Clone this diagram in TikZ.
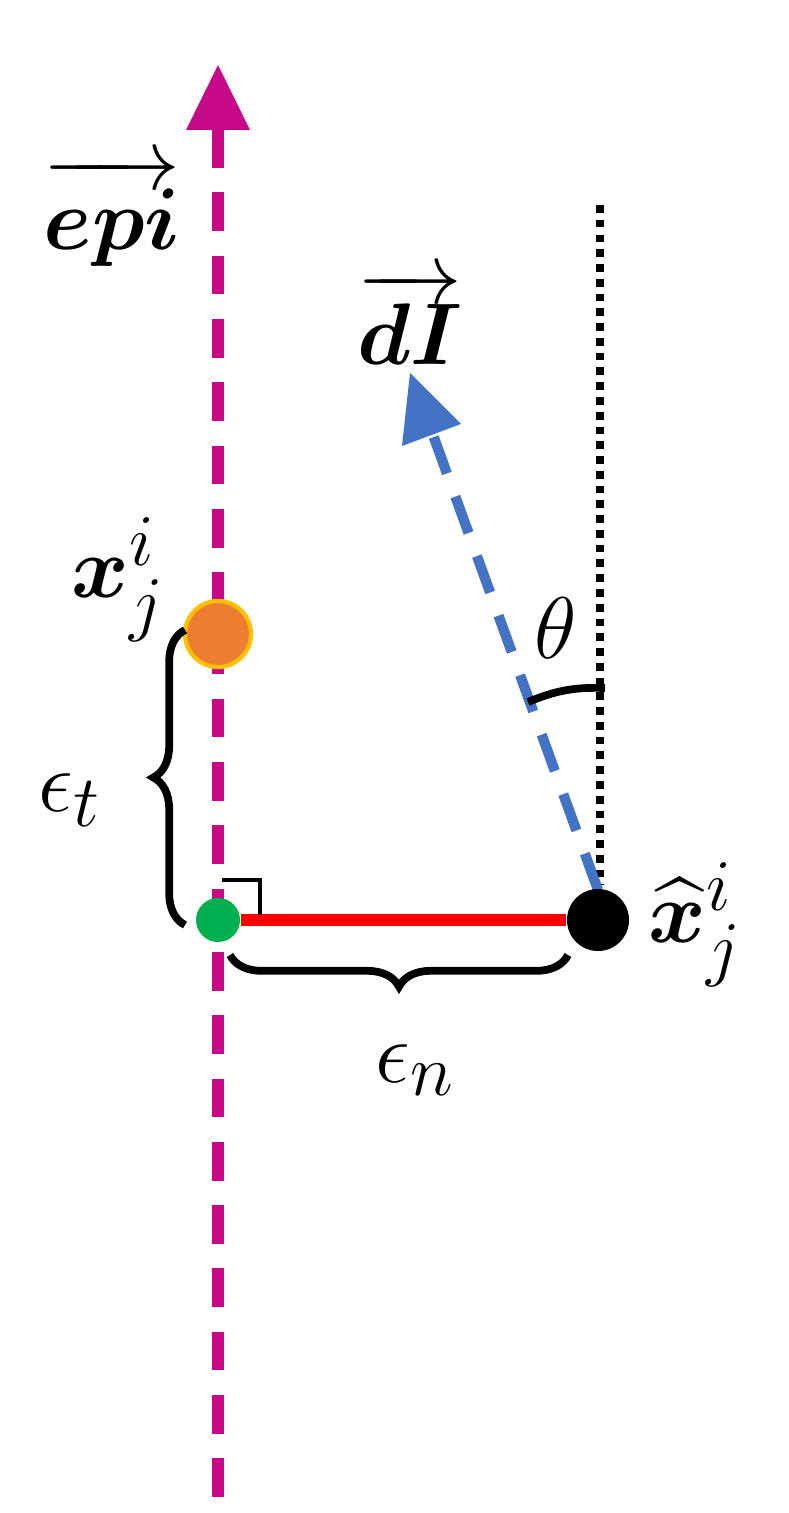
\documentclass[tikz,border=0pt]{standalone}
\usepackage{amsmath,bm}
\usetikzlibrary{decorations.pathreplacing}
\definecolor{mag}{RGB}{199,9,135}
\definecolor{blu}{RGB}{68,114,196}
\definecolor{org}{RGB}{237,125,49}
\definecolor{gold}{RGB}{255,192,0}
\definecolor{grn}{RGB}{0,176,80}
\tikzset{lbl/.style={font=\fontsize{30}{36}\selectfont},
 brc/.style={draw,line width=2.2pt,decorate,decoration={brace,amplitude=9pt}}}
\begin{document}
\begin{tikzpicture}[x=0.01cm,y=-0.01cm]
\useasboundingbox (0,0) rectangle (788,1513);
% magenta axis
\coordinate (e0) at (218,1497); \coordinate (e1) at (218,130);
\draw[mag,line width=3.4pt,dash pattern=on 11pt off 7pt] (e0)--(e1);
\fill[mag] (218,65) -- (250,130) -- (186,130) -- cycle;
\node[lbl] (epi) at (112,212) {$\overrightarrow{\bm{epi}}$};
% dotted
\coordinate (d0) at (600,205); \coordinate (d1) at (600,885);
\draw[line width=2.2pt,dotted] (d0)--(d1);
% blue arrow
\coordinate (b0) at (598,890); \coordinate (bb) at (433,435);
\draw[blu,line width=2.9pt,dash pattern=on 11pt off 7pt] (b0)--(bb);
\fill[blu] (410,373) -- (461,424) -- (402,446) -- cycle;
\node[lbl] (dI) at (410,318) {$\overrightarrow{\bm{dI}}$};
% theta
\node[lbl] (th) at (556,628) {$\theta$};
\draw[line width=2.2pt] (528,702) to[bend left=12] (605,688);
% red segment
\node[circle,fill=black,minimum size=62pt*0.2845,inner sep=0] (xh) at (598,920) {};
\node[circle,fill=grn,minimum size=44pt*0.2845,inner sep=0] (g) at (218,920) {};
\draw[red,line width=3.4pt] (g.east)--(xh.west);
\node[circle,fill=org,draw=gold,line width=1.2pt,minimum size=66pt*0.2845,inner sep=0] (x) at (218,634) {};
\node[lbl] (xl) at (118,580) {$\bm{x}^{i}_{j}$};
\node[lbl] (xhl) at (695,925) {$\widehat{\bm{x}}^{i}_{j}$};
% right angle
\draw[line width=1pt] (222,880) -- (260,880) -- (260,915);
% braces
\draw[brc] (185,925) -- (185,630);
\draw[brc] (568,955) -- (230,955);
\node[lbl] (et) at (70,800) {$\epsilon_t$};
\node[lbl] (en) at (415,1070) {$\epsilon_n$};
\end{tikzpicture}
\end{document}
